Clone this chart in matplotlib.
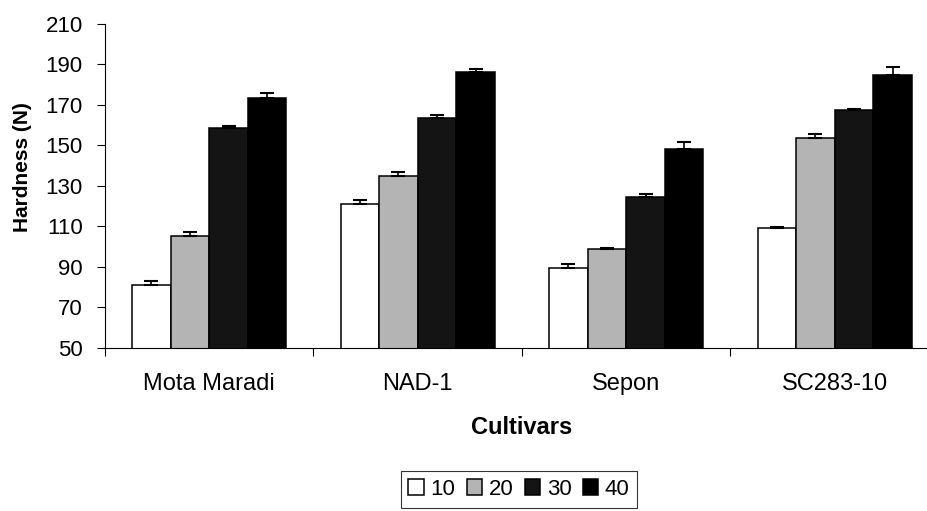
import matplotlib
matplotlib.use("Agg")
import matplotlib.pyplot as plt
import numpy as np

# data
cultivars = ["Mota Maradi", "NAD-1", "Sepon", "SC283-10"]
series_labels = ["10", "20", "30", "40"]
hard_10 = [81.0, 121.0, 89.3, 109.0]
hard_20 = [105.0, 135.0, 98.7, 153.5]
hard_30 = [158.8, 163.4, 124.3, 167.4]
hard_40 = [173.5, 186.5, 148.3, 184.9]
err_10 = [2.0, 1.8, 2.1, 0.6]
err_20 = [2.3, 1.8, 0.8, 2.0]
err_30 = [1.0, 1.7, 1.6, 0.6]
err_40 = [2.5, 1.2, 3.6, 3.8]
y_ticks = [50, 70, 90, 110, 130, 150, 170, 190, 210]

plt.rcParams.update({
    "font.family": ["Liberation Sans", "DejaVu Sans"],
    "font.size": 15,
})

W, H = 928, 511
fig = plt.figure(figsize=(W / 100, H / 100), dpi=100)
# axis spans 4 categories of ~208.5 px, the last one runs off the picture
ax = fig.add_axes([105 / W, 1 - 347.7 / H, 834 / W, 323.7 / H])

x = np.arange(len(cultivars))
bw = 0.185
values = [hard_10, hard_20, hard_30, hard_40]
errors = [err_10, err_20, err_30, err_40]
faces = ["white", "#b4b4b4", "#141414", "black"]

handles = []
for i, (vals, errs, fc, lab) in enumerate(zip(values, errors, faces, series_labels)):
    pos = x + (i - 1.5) * bw
    b = ax.bar(pos, vals, bw, color=fc, edgecolor="black", linewidth=1.1,
               label=lab, zorder=2)
    ax.errorbar(pos, vals, yerr=[np.zeros(len(errs)), errs], fmt="none",
                ecolor="black", elinewidth=1.2, capsize=5, capthick=1.5, zorder=3)
    handles.append(b)

ax.set_xlim(-0.5, 3.5)
ax.set_ylim(50, 210)
ax.set_yticks(y_ticks)
ax.set_xticks(x)
ax.set_xticklabels(cultivars, fontsize=17)
ax.set_xticks(np.arange(-0.5, 4.0, 1.0), minor=True)
ax.tick_params(axis="x", which="major", length=0, pad=18)
ax.tick_params(axis="x", which="minor", length=6, width=0.8, direction="out")
ax.tick_params(axis="y", length=6, width=0.8, direction="out", pad=10, labelsize=16)

for side in ("top", "right"):
    ax.spines[side].set_visible(False)
ax.spines["left"].set_linewidth(0.8)
ax.spines["bottom"].set_linewidth(0.8)

fig.text(23 / W, 1 - 167 / H, "Hardness (N)", rotation=90, ha="center",
         va="center", fontsize=15, weight="bold")
fig.text(522 / W, 1 - 427 / H, "Cultivars", ha="center", va="center",
         fontsize=17, weight="bold")

leg = fig.legend(handles, series_labels, loc="upper center",
                 bbox_to_anchor=(519 / W, 1 - 471 / H), ncol=4, frameon=True,
                 fancybox=False, edgecolor="black", fontsize=16,
                 handlelength=0.7, handleheight=0.7, handletextpad=0.3,
                 columnspacing=0.5, borderpad=0.35, borderaxespad=0)
leg.get_frame().set_linewidth(0.8)

fig.savefig("out.png", dpi=100, facecolor="white")
